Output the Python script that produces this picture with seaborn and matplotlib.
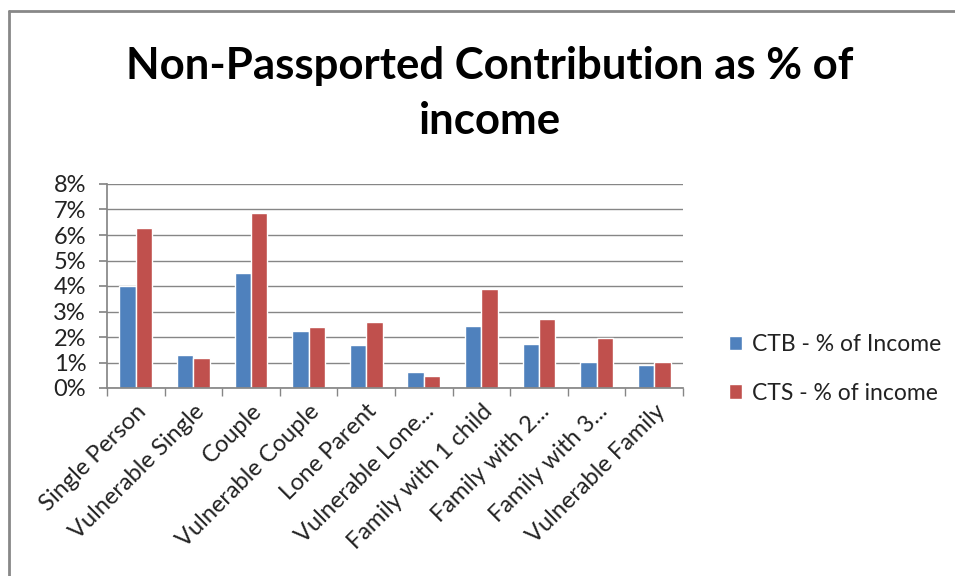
import matplotlib
matplotlib.use("Agg")
import matplotlib.pyplot as plt
import seaborn as sns
import pandas as pd
from matplotlib.lines import Line2D
from matplotlib.ticker import FuncFormatter, FixedLocator

categories = ["Single Person", "Vulnerable Single", "Couple", "Vulnerable Couple",
              "Lone Parent", "Vulnerable Lone...", "Family with 1 child",
              "Family with 2...", "Family with 3...", "Vulnerable Family"]
ctb = [4.0, 1.28, 4.52, 2.23, 1.68, 0.63, 2.43, 1.73, 1.02, 0.92]
cts = [6.28, 1.18, 6.88, 2.38, 2.58, 0.48, 3.88, 2.72, 1.98, 1.01]
series = ["CTB - % of Income", "CTS - % of income"]
colors = ["#4F81BD", "#C0504D"]
yticks = [0, 1, 2, 3, 4, 5, 6, 7, 8]

df = pd.DataFrame({
    "category": categories * 2,
    "value": ctb + cts,
    "series": [series[0]] * len(categories) + [series[1]] * len(categories),
})

sns.set_theme(style="white")
plt.rcParams['font.family'] = ['Lato', 'DejaVu Sans']

fig = plt.figure(figsize=(9.55, 5.76), dpi=100)
ax = fig.add_axes([107/955, 1-388/576, (683-107)/955, (388-184)/576])

sns.barplot(data=df, x="category", y="value", hue="series", palette=colors,
            order=categories, hue_order=series, width=0.57, gap=0,
            saturation=1, ax=ax, legend=True)

ax.set_ylim(0, 8)
ax.set_xlim(-0.5, len(categories) - 0.5)
ax.set_yticks(yticks)
ax.yaxis.set_major_formatter(FuncFormatter(lambda v, p: f"{int(v)}%"))
ax.set_xlabel("")
ax.set_ylabel("")
ax.grid(axis="y", color="#868686", linewidth=1)
ax.set_axisbelow(True)
for s in ["top", "right"]:
    ax.spines[s].set_visible(False)
ax.spines["left"].set_color("#868686")
ax.spines["bottom"].set_color("#868686")

ax.tick_params(axis="y", which="major", length=6, color="#868686", labelsize=17,
               labelcolor="#222222", pad=9, left=True)
ax.tick_params(axis="x", which="major", length=0, labelsize=17, labelcolor="#222222", pad=9)
ax.xaxis.set_minor_locator(FixedLocator([i - 0.5 for i in range(len(categories) + 1)]))
ax.tick_params(axis="x", which="minor", length=6, color="#868686", bottom=True)
plt.setp(ax.get_xticklabels(), rotation=45, ha="right", rotation_mode="anchor")

leg = ax.legend(loc="center left", bbox_to_anchor=(708/955, 1-369/576),
                bbox_transform=fig.transFigure, frameon=False, fontsize=16.5,
                handlelength=0.6, handleheight=0.6, handletextpad=0.4,
                labelspacing=1.2)
for t in leg.get_texts():
    t.set_color("#222222")

fig.text(490/955, 1-66/576, "Non-Passported Contribution as % of",
         ha="center", va="center", fontsize=31.5, fontweight="bold", color="black")
fig.text(490/955, 1-121/576, "income",
         ha="center", va="center", fontsize=31.5, fontweight="bold", color="black")

fig.lines.append(Line2D([9/955, 1.0], [1-11/576, 1-11/576], transform=fig.transFigure,
                        color="#888888", linewidth=2))
fig.lines.append(Line2D([9/955, 9/955], [0, 1-11/576], transform=fig.transFigure,
                        color="#888888", linewidth=2))

fig.savefig("out.png", dpi=100)
